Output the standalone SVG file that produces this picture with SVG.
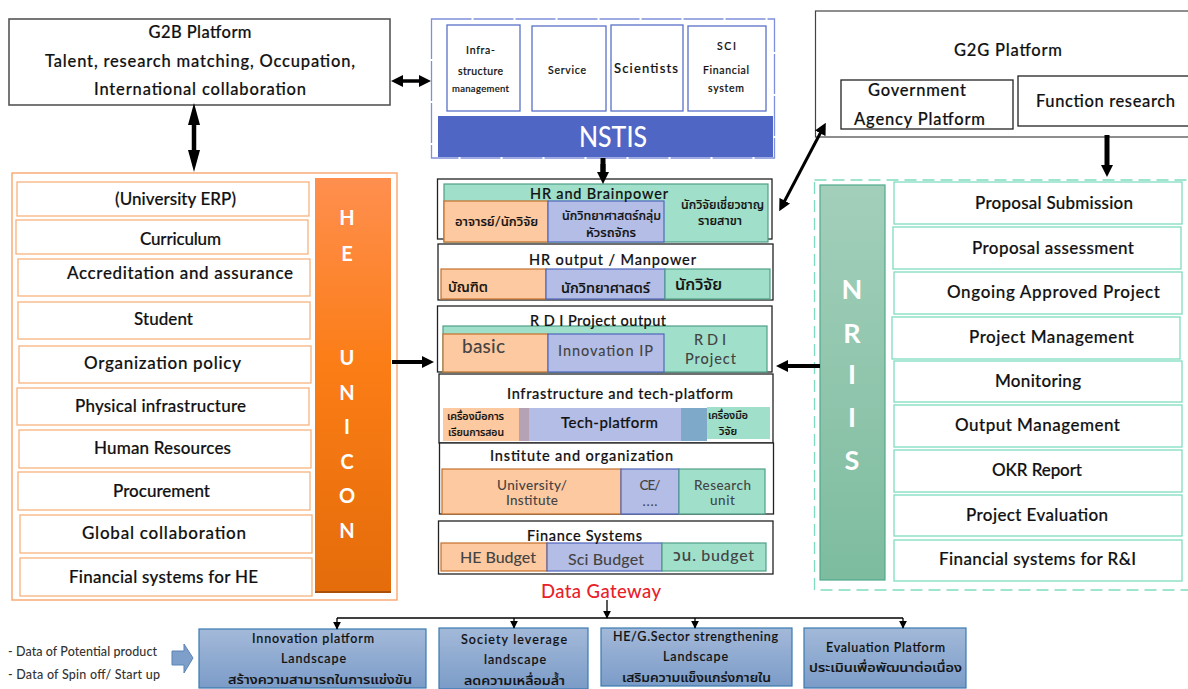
<svg xmlns="http://www.w3.org/2000/svg" width="1188" height="689" viewBox="0 0 1188 689">
<style>
text{font-family:"Lato","Noto Sans","Noto Sans Thai","DejaVu Sans",sans-serif;fill:#111;text-anchor:middle;font-weight:500;stroke:#111;stroke-width:.18}
.b{fill:#fff;stroke:#222;stroke-width:1.3}
.oi{fill:#fff;stroke:#f7b27e;stroke-width:1.3}
.ti{fill:#fff;stroke:#7fdcc0;stroke-width:1.3}
.ni{fill:#fff;stroke:#5b70c8;stroke-width:1.3}
.or{fill:#fdc9a0;stroke:#c5702c;stroke-width:1.2}
.bl{fill:#b3bde6;stroke:#4f66bb;stroke-width:1.2}
.tl{fill:#a0e0cb;stroke:#4f9f88;stroke-width:1.2}
.g{fill:url(#gb);stroke:#3a7ab0;stroke-width:1.2}
.f15{font-size:17px}.f16{font-size:16.500px}.f14{font-size:14.500px}.f12{font-size:12.500px}.f11{font-size:10.500px}
.l{stroke:#000;fill:none}
.s1{font-size:20px;fill:#fff;stroke:none;font-weight:700}
.s2{font-size:27px;fill:#fff;stroke:none;font-weight:700}
.d{font-size:12.500px;text-anchor:start;fill:#333;stroke:none}
.g4{fill:#444;stroke:none}
</style>
<defs>
<linearGradient id="og" x1="0" y1="0" x2="0" y2="1"><stop offset="0" stop-color="#ff8f4f"/><stop offset=".45" stop-color="#fb7d16"/><stop offset="1" stop-color="#e46c0a"/></linearGradient>
<linearGradient id="tg" x1="0" y1="0" x2="0" y2="1"><stop offset="0" stop-color="#a3cfba"/><stop offset="1" stop-color="#7dbc9f"/></linearGradient>
<linearGradient id="gb" x1="0" y1="0" x2="0" y2="1"><stop offset="0" stop-color="#a3b9d9"/><stop offset="1" stop-color="#7b9cc8"/></linearGradient>
<marker id="ah" markerUnits="userSpaceOnUse" viewBox="0 0 12 12" refX="6" refY="6" markerWidth="12" markerHeight="12" orient="auto-start-reverse"><path d="M0 0L12 6L0 12Z" fill="#000"/></marker>
<marker id="ahl" markerUnits="userSpaceOnUse" viewBox="0 0 22 12" refX="11" refY="6" markerWidth="22" markerHeight="12" orient="auto-start-reverse"><path d="M0 0L22 6L0 12Z" fill="#000"/></marker>
<marker id="as" viewBox="0 0 10 10" refX="9" refY="5" markerWidth="6" markerHeight="6" orient="auto"><path d="M0 0L10 5L0 10Z" fill="#000"/></marker>
</defs>

<g id="g2b"><rect x="9" y="19" width="381" height="86" fill="#fff" stroke="#555" stroke-width="1.600"/>
<text class="f16" x="200" y="38" textLength="103">G2B Platform</text><text class="f16" x="200" y="67" textLength="310">Talent, research matching, Occupation,</text><text class="f16" x="200" y="95" textLength="212">International collaboration</text></g>

<g id="nstis"><rect x="431.500" y="19" width="343" height="139" fill="#fff" stroke="#7e8fdc" stroke-width="1.300" stroke-dasharray="40 2"/>
<rect class="ni" x="447" y="25" width="73" height="86"/><rect class="ni" x="532" y="26" width="74" height="85"/><rect class="ni" x="611" y="25" width="72" height="86"/><rect class="ni" x="688" y="26" width="78" height="85"/>
<rect x="438" y="116" width="335" height="41" fill="#4f66c4"/>
<text class="f11" x="480.500" y="54" textLength="29">Infra-</text><text class="f11" x="480.500" y="75" textLength="45">structure</text><text x="480.500" y="92" font-size="9.500" textLength="57">management</text>
<text class="f11" x="567" y="74" textLength="38">Service</text><text x="646" y="73" font-size="13" font-weight="700" textLength="64">Scientists</text>
<text class="f11" x="726.500" y="50" textLength="19">SCI</text><text class="f11" x="726" y="74" textLength="46">Financial</text><text class="f11" x="726" y="92" textLength="36">system</text>
<text x="613" y="147" font-size="29" style="fill:#fff;stroke:none" textLength="68" lengthAdjust="spacingAndGlyphs">NSTIS</text></g>

<g id="g2g"><rect x="815.500" y="11" width="380" height="126" fill="#fff" stroke="#444" stroke-width="1.200"/>
<text class="f16" x="1008" y="56" textLength="108">G2G Platform</text>
<rect class="b" x="841" y="80" width="172" height="49"/><rect class="b" x="1018" y="76" width="175" height="50"/>
<text class="f16" x="917" y="96" textLength="98">Government</text><text class="f16" x="919.500" y="125" textLength="131">Agency Platform</text><text class="f16" x="1105.500" y="107" textLength="139">Function research</text></g>

<g id="he-unicon"><rect x="12" y="173" width="385" height="427" fill="#fff" stroke="#f9a66c" stroke-width="1.400"/>
<rect x="315" y="178" width="76" height="415" fill="url(#og)"/><rect x="315" y="591" width="76" height="2" fill="#a9500a"/>
<text class="s1" x="347" y="225">H</text><text class="s1" x="347" y="261">E</text><text class="s1" x="347" y="365">U</text><text class="s1" x="347" y="400">N</text><text class="s1" x="347" y="434">I</text><text class="s1" x="347" y="469">C</text><text class="s1" x="347" y="503">O</text><text class="s1" x="347" y="538">N</text>
<rect class="oi" x="17" y="182" width="292" height="34"/><rect class="oi" x="16" y="220" width="292" height="34"/><rect class="oi" x="18" y="259" width="292" height="37"/><rect class="oi" x="18" y="302" width="292" height="37"/><rect class="oi" x="19" y="346" width="292" height="37"/><rect class="oi" x="17" y="388" width="292" height="37"/><rect class="oi" x="19" y="430" width="292" height="38"/><rect class="oi" x="18" y="472" width="292" height="38"/><rect class="oi" x="20" y="515" width="292" height="38"/><rect class="oi" x="20" y="558" width="292" height="38"/>
<text class="f15" x="175.500" y="205" textLength="121">(University ERP)</text><text class="f15" x="180.500" y="245" textLength="81">Curriculum</text><text class="f15" x="180" y="279" textLength="226">Accreditation and assurance</text><text class="f15" x="163.500" y="325" textLength="59">Student</text><text class="f15" x="162.500" y="369" textLength="157">Organization policy</text><text class="f15" x="160.500" y="412" textLength="171">Physical infrastructure</text><text class="f15" x="162.500" y="454" textLength="137">Human Resources</text><text class="f15" x="161.500" y="497" textLength="97">Procurement</text><text class="f15" x="164" y="539" textLength="164">Global collaboration</text><text class="f15" x="163.500" y="583" textLength="189">Financial systems for HE</text></g>

<g id="nriis"><rect x="814.500" y="180" width="380" height="410" fill="#fff" stroke="#7fdcc0" stroke-width="1.300" stroke-dasharray="12 6"/>
<rect x="820" y="185" width="65" height="395" fill="url(#tg)" stroke="#4fa98c" stroke-width="1.200"/>
<text class="s2" x="852" y="299">N</text><text class="s2" x="852" y="343">R</text><text class="s2" x="852" y="384">I</text><text class="s2" x="852" y="427">I</text><text class="s2" x="852" y="470">S</text>
<rect class="ti" x="894" y="182" width="288" height="42"/><rect class="ti" x="893" y="227" width="288" height="42"/><rect class="ti" x="894" y="272" width="288" height="42"/><rect class="ti" x="892" y="317" width="288" height="42"/><rect class="ti" x="894" y="361" width="288" height="41"/><rect class="ti" x="894" y="405" width="288" height="42"/><rect class="ti" x="894" y="450" width="288" height="42"/><rect class="ti" x="894" y="495" width="288" height="41"/><rect class="ti" x="894" y="540" width="288" height="41"/>
<text class="f15" x="1054" y="209" textLength="158">Proposal Submission</text><text class="f15" x="1053" y="254" textLength="162">Proposal assessment</text><text class="f15" x="1053.500" y="298" textLength="213">Ongoing Approved Project</text><text class="f15" x="1051.500" y="343" textLength="165">Project Management</text><text class="f15" x="1038" y="387" textLength="86">Monitoring</text><text class="f15" x="1037.500" y="431" textLength="165">Output Management</text><text class="f15" x="1037" y="476" textLength="90">OKR Report</text><text class="f15" x="1037" y="521" textLength="142">Project Evaluation</text><text class="f15" x="1037.500" y="565" textLength="197">Financial systems for R&amp;I</text></g>

<g id="hr-brainpower"><rect class="b" x="437.500" y="179" width="334.500" height="60"/>
<rect class="tl" x="444" y="184" width="324" height="58"/><rect class="or" x="444" y="201" width="104" height="41"/><rect class="bl" x="548" y="201" width="116" height="41"/>
<text class="f14" x="599" y="199" font-weight="700" textLength="138">HR and Brainpower</text><text class="f12" x="496.500" y="226" textLength="83" lengthAdjust="spacingAndGlyphs">อาจารย์/นักวิจัย</text><text class="f12" x="611.500" y="220" textLength="99" lengthAdjust="spacingAndGlyphs">นักวิทยาศาสตร์กลุ่ม</text><text class="f12" x="611" y="237" textLength="50" lengthAdjust="spacingAndGlyphs">หัวรถจักร</text><text class="f12" x="722.500" y="209" textLength="83" lengthAdjust="spacingAndGlyphs">นักวิจัยเชี่ยวชาญ</text><text class="f12" x="720" y="225" textLength="44" lengthAdjust="spacingAndGlyphs">รายสาขา</text></g>

<g id="hr-output"><rect class="b" x="438" y="244" width="335" height="56"/>
<rect class="or" x="441" y="269" width="105" height="30"/><rect class="bl" x="546" y="269" width="119" height="30"/><rect class="tl" x="665" y="269" width="105" height="30"/>
<text class="f14" x="612.500" y="265" textLength="167">HR output / Manpower</text><text class="f14" x="468" y="292" textLength="40" lengthAdjust="spacingAndGlyphs">บัณฑิต</text><text class="f14" x="605.500" y="293" textLength="89" lengthAdjust="spacingAndGlyphs">นักวิทยาศาสตร์</text><text x="698.500" y="290" font-size="16" font-weight="700" textLength="47" lengthAdjust="spacingAndGlyphs">นักวิจัย</text></g>

<g id="rdi"><rect class="b" x="437.500" y="306" width="334.500" height="66"/>
<rect class="tl" x="443" y="326" width="324" height="46"/><rect class="or" x="443" y="334" width="105" height="38"/><rect class="bl" x="548" y="334" width="116" height="38"/>
<text class="f14" x="598" y="326" font-weight="700" textLength="136">R D I Project output</text><text class="g4" x="483.500" y="353" font-size="19" textLength="43">basic</text><text class="f14 g4" x="605.500" y="356" textLength="95">Innovation IP</text><text class="f14 g4" x="710" y="345" textLength="32">R D I</text><text class="f14 g4" x="710.500" y="364" textLength="51">Project</text></g>

<g id="infrastructure"><rect class="b" x="439" y="374" width="334" height="69"/>
<rect x="443" y="408" width="76" height="33" fill="#fdc9a0"/><rect x="519" y="408" width="10" height="33" fill="#b5a2b4"/><rect x="529" y="408" width="152" height="33" fill="#b3bde6"/><rect x="681" y="408" width="26" height="33" fill="#7fa9c8"/><rect x="707" y="407" width="63" height="32" fill="#a0e0cb"/>
<text class="f14" x="620" y="399" textLength="226">Infrastructure and tech-platform</text><text x="475.500" y="420" font-size="10" textLength="57" lengthAdjust="spacingAndGlyphs">เครื่องมือการ</text><text x="476" y="436" font-size="10" textLength="56" lengthAdjust="spacingAndGlyphs">เรียนการสอน</text><text x="609.500" y="428" font-size="15" font-weight="700" textLength="97">Tech-platform</text><text x="728" y="419" font-size="10" textLength="40" lengthAdjust="spacingAndGlyphs">เครื่องมือ</text><text x="728" y="435" font-size="10" textLength="18" lengthAdjust="spacingAndGlyphs">วิจัย</text></g>

<g id="institute"><rect class="b" x="439.500" y="443" width="334" height="71"/>
<rect class="or" x="442" y="469" width="179" height="45"/><rect class="bl" x="621" y="469" width="58" height="45"/><rect class="tl" x="679" y="469" width="86" height="45"/>
<text class="f14" x="581.500" y="461" textLength="183">Institute and organization</text><text class="g4" x="532" y="490" font-size="13.500" textLength="70">University/</text><text class="g4" x="532" y="505" font-size="13.500" textLength="52">Institute</text><text class="g4" x="650" y="490" font-size="13.500" textLength="21">CE/</text><text class="g4" x="650" y="506" font-size="13.500" textLength="15">....</text><text class="g4" x="722.500" y="490" font-size="13.500" textLength="57">Research</text><text class="g4" x="722.500" y="505" font-size="13.500" textLength="25">unit</text></g>

<g id="finance"><rect class="b" x="438.500" y="521" width="334.500" height="53"/>
<rect class="or" x="441" y="543" width="106" height="28"/><rect class="bl" x="547" y="543" width="115" height="28"/><rect class="tl" x="662" y="543" width="104" height="28"/>
<text class="f14" x="584.500" y="541" textLength="115">Finance Systems</text><text class="g4" x="498" y="563" font-size="16" textLength="76">HE Budget</text><text class="g4" x="606" y="565" font-size="16" textLength="76">Sci Budget</text><text class="g4" x="713.500" y="561" font-size="16" textLength="81">วน. budget</text></g>

<text id="gateway" x="601" y="598" font-size="18.500" font-weight="700" style="fill:#e8202a;stroke:none" textLength="120">Data Gateway</text>

<g id="innovation"><rect class="g" x="199" y="629" width="227" height="59"/><text class="f12" x="313" y="643" textLength="122">Innovation platform</text><text class="f12" x="313.500" y="663" textLength="65">Landscape</text><text class="f12" x="320" y="684" textLength="184" lengthAdjust="spacingAndGlyphs">สร้างความสามารถในการแข่งขัน</text></g>
<g id="society"><rect class="g" x="439" y="628" width="149" height="61"/><text class="f12" x="514" y="644" textLength="106">Society leverage</text><text class="f12" x="515" y="664" textLength="62">landscape</text><text class="f12" x="514.500" y="685" textLength="101" lengthAdjust="spacingAndGlyphs">ลดความเหลื่อมล้ำ</text></g>
<g id="strengthening"><rect class="g" x="601" y="628" width="191" height="58"/><text class="f12" x="695.500" y="641" textLength="165">HE/G.Sector strengthening</text><text class="f12" x="695.500" y="661" textLength="65">Landscape</text><text class="f12" x="696.500" y="682" textLength="149" lengthAdjust="spacingAndGlyphs">เสริมความแข็งแกร่งภายใน</text></g>
<g id="evaluation"><rect class="g" x="804" y="628" width="162" height="60"/><text class="f12" x="885.500" y="652" textLength="119">Evaluation Platform</text><text class="f12" x="885.500" y="672" textLength="153" lengthAdjust="spacingAndGlyphs">ประเมินเพื่อพัฒนาต่อเนื่อง</text></g>

<g id="data-notes"><text class="d" x="8" y="656" textLength="149">- Data of Potential product</text><text class="d" x="8" y="679" textLength="152">- Data of Spin off/ Start up</text>
<path d="M172 651H184V644L193 658L184 673V665H172Z" fill="#7f9fcb" stroke="#5b84b5"/></g>

<g id="connectors">
<path class="l" stroke-width="3.500" marker-start="url(#ah)" marker-end="url(#ah)" d="M397 81H425"/>
<path class="l" stroke-width="4.500" marker-start="url(#ahl)" marker-end="url(#ahl)" d="M194 114V161"/>
<path class="l" stroke-width="5" d="M603 158V178"/>
<path class="l" stroke-width="5" marker-end="url(#ah)" d="M603 164V178"/>
<path class="l" stroke-width="3" marker-start="url(#ah)" marker-end="url(#ah)" d="M782 206L823 128"/>
<path class="l" stroke-width="5" marker-end="url(#ah)" d="M1107 135V171"/>
<path class="l" stroke-width="4" marker-end="url(#ah)" d="M392 362H428"/>
<path class="l" stroke-width="4" marker-end="url(#ah)" d="M820 366H782"/>
<path class="l" stroke-width="1.300" marker-end="url(#as)" d="M607 600V618"/>
<path class="l" stroke-width="1.300" d="M337 618H903"/>
<path class="l" stroke-width="1.300" marker-end="url(#as)" d="M337 618V629"/>
<path class="l" stroke-width="1.300" marker-end="url(#as)" d="M514 618V628"/>
<path class="l" stroke-width="1.300" marker-end="url(#as)" d="M695 618V628"/>
<path class="l" stroke-width="1.300" marker-end="url(#as)" d="M903 618V628"/>
</g>
</svg>
